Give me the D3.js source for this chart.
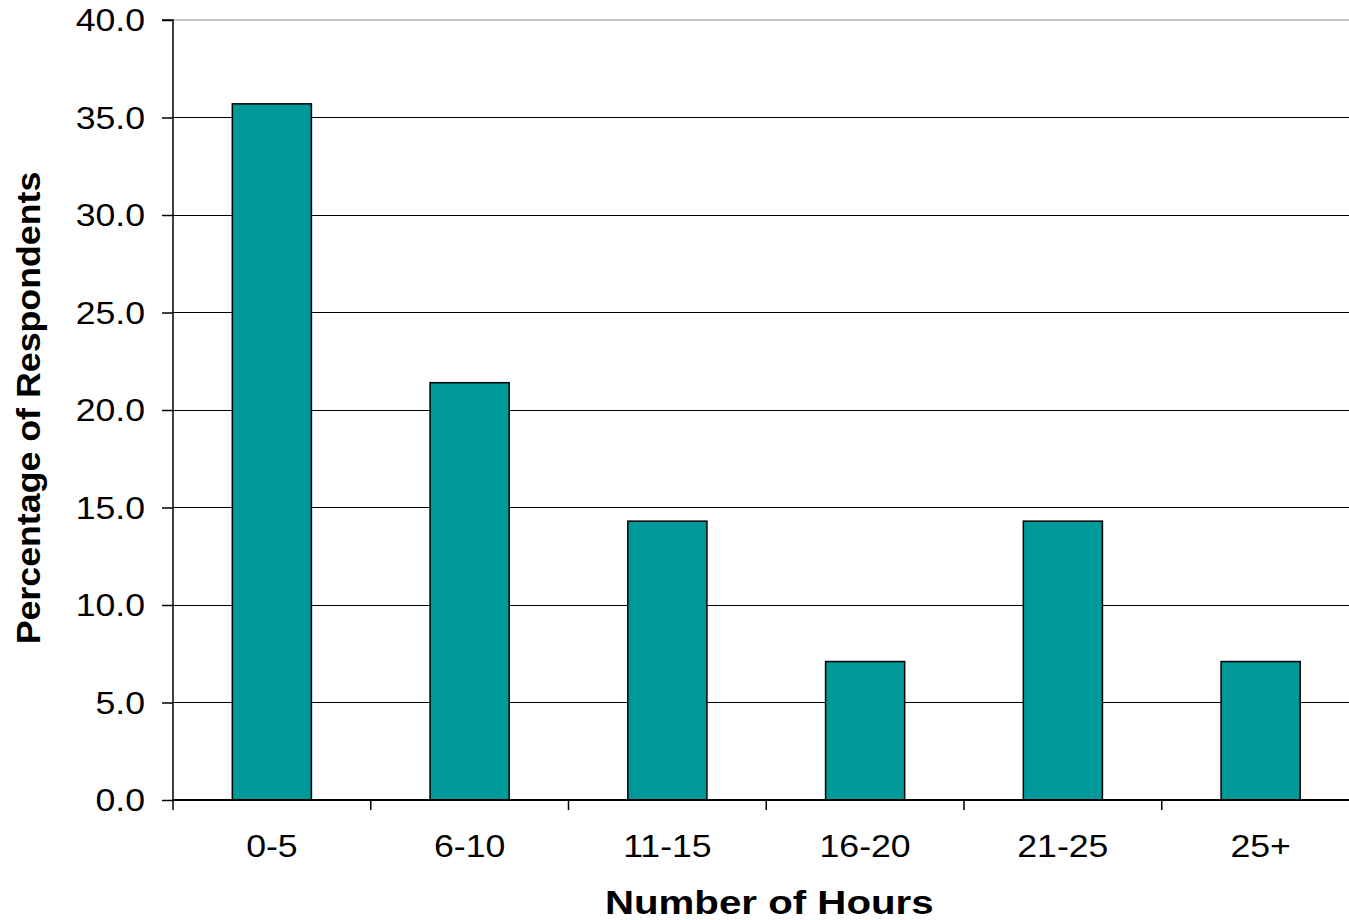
<!DOCTYPE html>
<html>
<head>
<meta charset="utf-8">
<script src="https://cdn.jsdelivr.net/npm/d3@7"></script>
<style>
  html, body { margin: 0; padding: 0; background: #fff; }
  svg { display: block; }
  text { font-family: "Liberation Sans", Arial, sans-serif; fill: #000; }
</style>
</head>
<body>
<svg id="chart" width="1349" height="920"></svg>
<script>
// Hours spent per week, share of respondents (%)
const categories = ["0-5", "6-10", "11-15", "16-20", "21-25", "25+"];
const percentages = [35.7, 21.4, 14.3, 7.1, 14.3, 7.1];
const yTickValues = [0, 5, 10, 15, 20, 25, 30, 35, 40];
const xTitle = "Number of Hours";
const yTitle = "Percentage of Respondents";

const svg = d3.select("#chart");
const plotLeft = 173, plotRight = 1359.5, plotTop = 20, plotBottom = 800;

const x = d3.scaleBand()
  .domain(categories)
  .range([plotLeft, plotRight])
  .paddingInner(0.6)
  .paddingOuter(0.3);

const y = d3.scaleLinear().domain([0, 40]).range([plotBottom, plotTop]);

const step = (plotRight - plotLeft) / categories.length;

// horizontal gridlines
svg.append("g")
  .selectAll("line")
  .data(yTickValues.filter(v => v > 0))
  .join("line")
  .attr("x1", plotLeft).attr("x2", plotRight)
  .attr("y1", d => y(d)).attr("y2", d => y(d))
  .attr("stroke", d => d === 40 ? "#c0c0c0" : "#000")
  .attr("stroke-width", d => d === 40 ? 2 : 1)
  .attr("shape-rendering", "crispEdges");

// bars
svg.append("g")
  .selectAll("rect")
  .data(percentages)
  .join("rect")
  .attr("x", (d, i) => x(categories[i]))
  .attr("width", x.bandwidth())
  .attr("y", d => y(d))
  .attr("height", d => y(0) - y(d))
  .attr("fill", "#009999")
  .attr("stroke", "#000")
  .attr("stroke-width", 1.5);

// y axis line + ticks
const yAxis = d3.axisLeft(y).tickValues(yTickValues).tickSize(11).tickFormat("");
svg.append("g")
  .attr("transform", `translate(${plotLeft},0)`)
  .call(yAxis)
  .call(g => g.select(".domain").attr("stroke", "#000").attr("stroke-width", 1.5).attr("d", `M-11,${plotTop}H0V${plotBottom}`))
  .call(g => g.selectAll(".tick line").attr("stroke", "#000").attr("stroke-width", 1.5));

// x axis line + ticks at category boundaries
const boundaries = d3.range(categories.length + 1).map(i => plotLeft + i * step);
svg.append("line")
  .attr("x1", plotLeft).attr("x2", plotRight)
  .attr("y1", plotBottom).attr("y2", plotBottom)
  .attr("stroke", "#000").attr("stroke-width", 2);
svg.append("g")
  .selectAll("line")
  .data(boundaries)
  .join("line")
  .attr("x1", d => d).attr("x2", d => d)
  .attr("y1", plotBottom).attr("y2", plotBottom + 10)
  .attr("stroke", "#000").attr("stroke-width", 1.5);

const tickStretch = 1.15;
const tickFont = 31;

// y tick labels
svg.append("g")
  .selectAll("text")
  .data(yTickValues)
  .join("text")
  .attr("transform", d => `translate(145,${y(d)}) scale(${tickStretch},1)`)
  .attr("text-anchor", "end")
  .attr("dy", "0.36em")
  .attr("font-size", tickFont)
  .text(d => d3.format(".1f")(d));

// x tick labels
svg.append("g")
  .selectAll("text")
  .data(categories)
  .join("text")
  .attr("transform", d => `translate(${x(d) + x.bandwidth() / 2},846) scale(${tickStretch},1)`)
  .attr("text-anchor", "middle")
  .attr("dy", "0.36em")
  .attr("font-size", tickFont)
  .text(d => d);

// axis titles
svg.append("text")
  .attr("transform", `translate(${(plotLeft + plotRight) / 2 + 3},914) scale(1.22,1)`)
  .attr("text-anchor", "middle")
  .attr("font-size", 33)
  .attr("font-weight", "bold")
  .text(xTitle);

svg.append("text")
  .attr("transform", `translate(40,408) rotate(-90) scale(1.1,1)`)
  .attr("text-anchor", "middle")
  .attr("font-size", 32.5)
  .attr("font-weight", "bold")
  .text(yTitle);
</script>
</body>
</html>
